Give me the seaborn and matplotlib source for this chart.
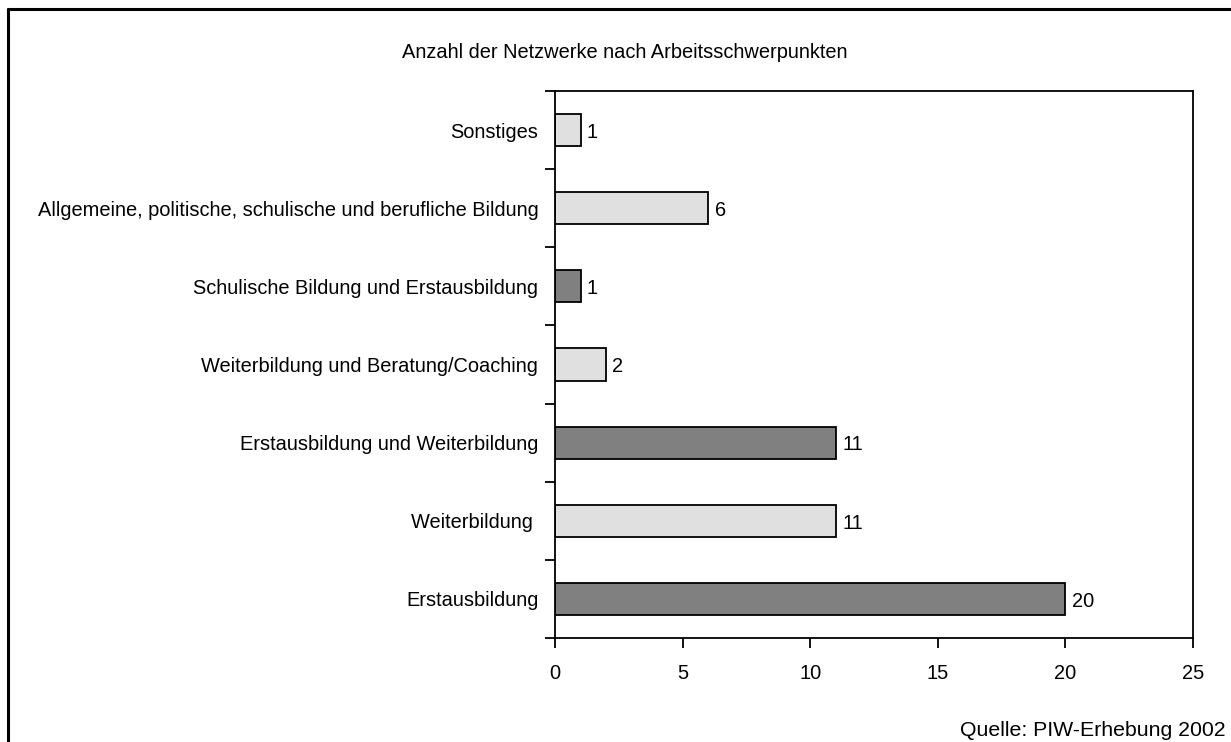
import matplotlib
matplotlib.use("Agg")
import matplotlib.pyplot as plt
from matplotlib.lines import Line2D
import seaborn as sns
import pandas as pd
import numpy as np

categories = [
    "Sonstiges",
    "Allgemeine, politische, schulische und berufliche Bildung",
    "Schulische Bildung und Erstausbildung",
    "Weiterbildung und Beratung/Coaching",
    "Erstausbildung und Weiterbildung",
    "Weiterbildung ",
    "Erstausbildung",
]
counts = [1, 6, 1, 2, 11, 11, 20]
bar_colors = ["#e0e0e0", "#e0e0e0", "#808080", "#e0e0e0", "#808080", "#e0e0e0", "#808080"]
x_ticks = [0, 5, 10, 15, 20, 25]

subtitle = "Anzahl der Netzwerke nach Arbeitsschwerpunkten"
source = "Quelle: PIW-Erhebung 2002"

sns.set_theme(style="white")
plt.rcParams["font.family"] = ["Liberation Sans", "DejaVu Sans"]
plt.rcParams["text.color"] = "black"
plt.rcParams["xtick.color"] = "black"
plt.rcParams["ytick.color"] = "black"

FS = 14.4

df = pd.DataFrame({"Kategorie": categories, "Anzahl": counts})

fig = plt.figure(figsize=(12.31, 7.42), dpi=100)
W, H = 1231, 742
ax = fig.add_axes([555 / W, 1 - 638 / H, (1193 - 555) / W, (638 - 91) / H])

sns.barplot(
    data=df, x="Anzahl", y="Kategorie", hue="Kategorie",
    palette=bar_colors, order=categories, hue_order=categories,
    width=0.41, edgecolor="black", linewidth=1.3, saturation=1,
    legend=False, ax=ax,
)

for i, v in enumerate(counts):
    ax.text(v + 0.25, i + 0.03, str(v), va="center", ha="left", fontsize=FS, color="black")

ax.set_xlim(0, 25)
ax.set_ylim(len(categories) - 0.5, -0.5)
ax.set_xticks(x_ticks)
ax.set_xticklabels([str(t) for t in x_ticks], fontsize=FS)
ax.set_xlabel("")
ax.set_ylabel("")

# category labels sit between boundary ticks
ax.set_yticks(range(len(categories)))
ax.set_yticklabels(categories, fontsize=FS)
ax.set_yticks(np.arange(-0.5, len(categories), 1.0), minor=True)
ax.tick_params(axis="y", which="major", length=0, pad=12)
ax.tick_params(axis="y", which="minor", length=7, width=1.3, direction="out", left=True, color="black")
ax.tick_params(axis="x", which="major", length=7, width=1.3, direction="out", bottom=True,
               color="black", pad=12)

for s in ax.spines.values():
    s.set_visible(True)
    s.set_color("black")
    s.set_linewidth(1.3)

fig.text(625 / W, 1 - 52 / H, subtitle, ha="center", va="center", fontsize=FS)
fig.text(1226 / W, 1 - 730 / H, source, ha="right", va="center", fontsize=15.3)

# outer frame lines (left and top)
fig.add_artist(Line2D([7.5 / W, 7.5 / W], [0, 1 - 9 / H], color="black", linewidth=2.2,
                      transform=fig.transFigure))
fig.add_artist(Line2D([7.5 / W, 1], [1 - 9 / H, 1 - 9 / H], color="black", linewidth=2.2,
                      transform=fig.transFigure))

fig.savefig("out.png", dpi=100)
